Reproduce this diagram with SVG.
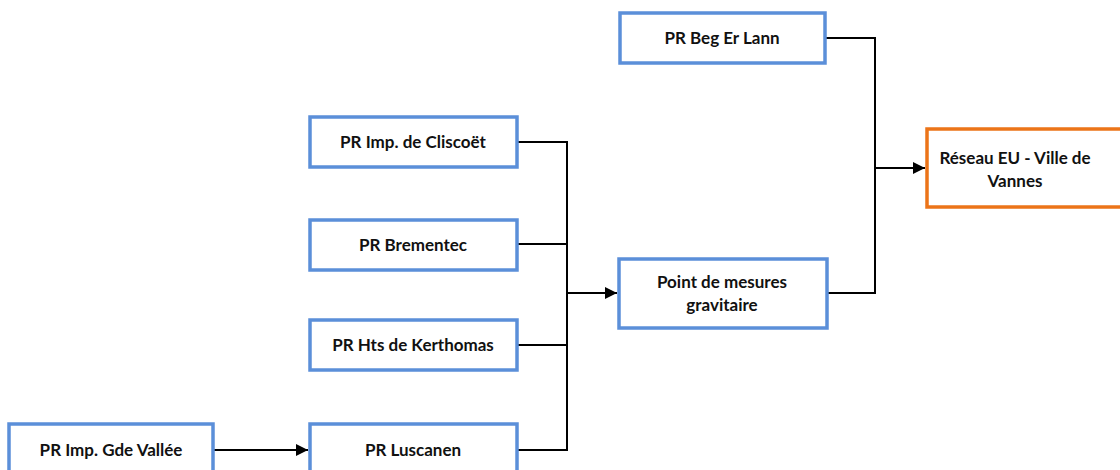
<svg xmlns="http://www.w3.org/2000/svg" width="1120" height="470" viewBox="0 0 1120 470">
<defs>
<style>
.node rect{fill:#fff;stroke:#5B8FD9;stroke-width:3.5}
.node.out rect{stroke:#EC7418}
.node text{font-family:Lato,"Liberation Sans",sans-serif;font-weight:bold;font-size:17px;fill:#111;text-anchor:middle}
.conn path{fill:none;stroke:#000;stroke-width:2}
</style>
<marker id="arr" viewBox="0 0 10 10" refX="10" refY="5" markerWidth="12" markerHeight="12" markerUnits="userSpaceOnUse" orient="auto">
<path d="M0,0 L10,5 L0,10 z" fill="#000"/>
</marker>
</defs>
<rect width="1120" height="470" fill="#fff"/>
<g id="connectors" class="conn">
<path d="M825,38 H875 V293 H827"/>
<path d="M875,168 H925" marker-end="url(#arr)"/>
<path d="M517,142 H567 V450 H517"/>
<path d="M517,244 H567"/>
<path d="M517,345 H567"/>
<path d="M567,293 H617" marker-end="url(#arr)"/>
<path d="M213,450 H308" marker-end="url(#arr)"/>
</g>
<g id="beg-er-lann" class="node"><rect x="620" y="13" width="205" height="50"/><text x="722" y="44">PR Beg Er Lann</text></g>
<g id="reseau-eu" class="node out"><rect x="927" y="129" width="205" height="78"/><text x="1015" y="164">Réseau EU - Ville de</text><text x="1015" y="187">Vannes</text></g>
<g id="cliscoet" class="node"><rect x="310" y="117" width="207" height="50"/><text x="413" y="148">PR Imp. de Cliscoët</text></g>
<g id="brementec" class="node"><rect x="310" y="220" width="207" height="50"/><text x="413" y="251">PR Brementec</text></g>
<g id="kerthomas" class="node"><rect x="310" y="320" width="207" height="50"/><text x="413" y="351">PR Hts de Kerthomas</text></g>
<g id="point-mesures" class="node"><rect x="619" y="259" width="208" height="69"/><text x="722" y="288">Point de mesures</text><text x="722" y="311">gravitaire</text></g>
<g id="luscanen" class="node"><rect x="310" y="424" width="207" height="52"/><text x="413" y="456">PR Luscanen</text></g>
<g id="gde-vallee" class="node"><rect x="9" y="424" width="204" height="52"/><text x="111" y="456">PR Imp. Gde Vallée</text></g>
</svg>
